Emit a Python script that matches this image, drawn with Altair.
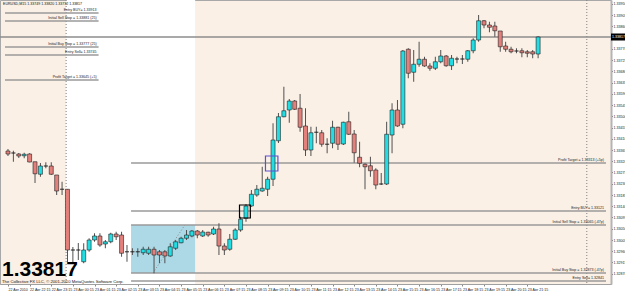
import altair as alt
import pandas as pd

# ---------------- data ----------------
BAR = list(range(99))  # M15 bars, 22 Apr 21:15 .. 23 Apr 21:45
OPEN = [1.33361, 1.33353, 1.33349, 1.33342, 1.33349, 1.33318, 1.33268, 1.33301, 1.33301, 1.33265,
        1.33208, 1.33208, 1.32965, 1.32965, 1.32918, 1.32965, 1.33005, 1.33021, 1.32989, 1.32998,
        1.33029, 1.33025, 1.32958, 1.32958, 1.32958, 1.32954, 1.32952, 1.32968, 1.32958, 1.32958,
        1.32941, 1.32972, 1.32994, 1.33012, 1.33021, 1.33041, 1.33021, 1.33036, 1.33029, 1.33049,
        1.32981, 1.32968, 1.33008, 1.33045, 1.33092, 1.33141, 1.33185, 1.33201, 1.33208, 1.33248,
        1.33402, 1.33498, 1.33525, 1.33561, 1.33532, 1.33461, 1.33365, 1.33436, 1.33434, 1.33388,
        1.33392, 1.33456, 1.33389, 1.33478, 1.33429, 1.33336, 1.33308, 1.33302, 1.33285, 1.33229,
        1.33229, 1.33425, 1.33525, 1.33468, 1.33768, 1.33676, 1.33708, 1.33728, 1.33701, 1.33692,
        1.33718, 1.33741, 1.33702, 1.33729, 1.33729, 1.33728, 1.33762, 1.33805, 1.33882, 1.33865,
        1.33861, 1.33841, 1.33781, 1.33768, 1.33761, 1.33762, 1.33758, 1.33758, 1.33749]
HIGH = [1.33369, 1.33362, 1.33353, 1.33354, 1.33352, 1.33318, 1.33313, 1.33316, 1.33316, 1.33265,
        1.33238, 1.33209, 1.32977, 1.32993, 1.32992, 1.33012, 1.33032, 1.33032, 1.33005, 1.33034,
        1.33038, 1.33038, 1.32985, 1.32972, 1.32972, 1.32978, 1.32978, 1.32978, 1.32965, 1.32965,
        1.32992, 1.33005, 1.33018, 1.33045, 1.33045, 1.33045, 1.33045, 1.33038, 1.33058, 1.33072,
        1.32992, 1.33029, 1.33052, 1.33098, 1.33149, 1.33205, 1.33225, 1.33298, 1.33258, 1.33472,
        1.33513, 1.33618, 1.33569, 1.33565, 1.33589, 1.33532, 1.33458, 1.33458, 1.33445, 1.33412,
        1.33482, 1.33458, 1.33478, 1.33518, 1.33445, 1.33398, 1.33312, 1.33338, 1.33292, 1.33273,
        1.33478, 1.33552, 1.33565, 1.33765, 1.33772, 1.33765, 1.33798, 1.33738, 1.33712, 1.33738,
        1.33765, 1.33745, 1.33745, 1.33738, 1.33745, 1.33765, 1.33812, 1.33905, 1.33885, 1.33878,
        1.33878, 1.33841, 1.33798, 1.33778, 1.33772, 1.33772, 1.33765, 1.33765, 1.33820]
LOW = [1.33341, 1.33318, 1.33333, 1.33332, 1.33316, 1.33233, 1.33258, 1.33292, 1.33265, 1.33185,
       1.33185, 1.32917, 1.32913, 1.32925, 1.32912, 1.32958, 1.32998, 1.32978, 1.32972, 1.32992,
       1.33005, 1.32938, 1.32918, 1.32945, 1.32938, 1.32945, 1.32945, 1.32872, 1.32912, 1.32912,
       1.32938, 1.32965, 1.32992, 1.33005, 1.33016, 1.33012, 1.33017, 1.33018, 1.33025, 1.32945,
       1.32945, 1.32962, 1.33005, 1.33038, 1.33078, 1.33138, 1.33178, 1.33198, 1.33181, 1.33221,
       1.33393, 1.33496, 1.33474, 1.33525, 1.33438, 1.33341, 1.33341, 1.33392, 1.33378, 1.33352,
       1.33372, 1.33365, 1.33385, 1.33425, 1.33314, 1.33296, 1.33208, 1.33258, 1.33208, 1.33225,
       1.33225, 1.33352, 1.33458, 1.33452, 1.33652, 1.33638, 1.33698, 1.33698, 1.33682, 1.33685,
       1.33712, 1.33698, 1.33685, 1.33712, 1.33709, 1.33718, 1.33752, 1.33798, 1.33852, 1.33836,
       1.33818, 1.33758, 1.33758, 1.33752, 1.33752, 1.33736, 1.33736, 1.33732, 1.33732]
CLOSE = [1.33349, 1.33353, 1.33341, 1.33348, 1.33317, 1.33270, 1.33301, 1.33301, 1.33268, 1.33201,
         1.33208, 1.32965, 1.32965, 1.32965, 1.32965, 1.33005, 1.33021, 1.32985, 1.32998, 1.33029,
         1.33018, 1.32952, 1.32958, 1.32958, 1.32958, 1.32968, 1.32968, 1.32945, 1.32945, 1.32941,
         1.32978, 1.32998, 1.33012, 1.33025, 1.33041, 1.33025, 1.33037, 1.33025, 1.33049, 1.32981,
         1.32965, 1.33008, 1.33045, 1.33088, 1.33141, 1.33188, 1.33208, 1.33212, 1.33248, 1.33405,
         1.33498, 1.33522, 1.33561, 1.33528, 1.33456, 1.33365, 1.33434, 1.33436, 1.33388, 1.33388,
         1.33456, 1.33388, 1.33476, 1.33428, 1.33354, 1.33312, 1.33298, 1.33282, 1.33225, 1.33229,
         1.33428, 1.33525, 1.33461, 1.33761, 1.33672, 1.33708, 1.33728, 1.33701, 1.33692, 1.33718,
         1.33741, 1.33702, 1.33732, 1.33729, 1.33729, 1.33762, 1.33805, 1.33882, 1.33865, 1.33856,
         1.33842, 1.33778, 1.33768, 1.33758, 1.33761, 1.33754, 1.33752, 1.33749, 1.33817]

TIME_TICKS = [0, 4, 8, 12, 16, 20, 24, 28, 32, 36, 40, 44, 48, 52, 56, 60, 64, 68, 72, 76, 80, 84, 88, 92, 96]
TIME_LABELS = ["22 Apr 2010", "22 Apr 22:15", "22 Apr 23:15", "23 Apr 00:15", "23 Apr 01:15",
               "23 Apr 02:15", "23 Apr 03:15", "23 Apr 04:15", "23 Apr 05:15", "23 Apr 06:15",
               "23 Apr 07:15", "23 Apr 08:15", "23 Apr 09:15", "23 Apr 10:15", "23 Apr 11:15",
               "23 Apr 12:15", "23 Apr 13:15", "23 Apr 14:15", "23 Apr 15:15", "23 Apr 16:15",
               "23 Apr 17:15", "23 Apr 18:15", "23 Apr 19:15", "23 Apr 20:15", "23 Apr 21:15"]
# price grid labels (the one under the current-price box is hidden in the reference)
PRICE_TICKS = [1.33950, 1.33905, 1.33860, 1.33770, 1.33725, 1.33680, 1.33635, 1.33590,
               1.33545, 1.33500, 1.33455, 1.33410, 1.33365, 1.33320, 1.33275, 1.33230, 1.33185,
               1.33140, 1.33095, 1.33050, 1.33005, 1.32960, 1.32915, 1.32870]

LEVEL_TEXT = ["Entry BUY= 1.33913", "Initial Sell Stop = 1.33881 (25)", "Initial Buy Stop = 1.33777 (25)",
              "Entry Sell= 1.33745", "Profit Target = 1.33645 (+5)",
              "Profit Target = 1.33313 (+5p)", "Entry BUY= 1.33121", "Initial Sell Stop = 1.33065 (-47p)",
              "Initial Buy Stop = 1.32873 (-47p)", "Entry Sell= 1.32841"]
LEVEL_PRICE = [1.33913, 1.33881, 1.33777, 1.33745, 1.33645,
               1.33313, 1.33121, 1.33065, 1.32873, 1.32841]
LEVEL_FROM = [-0.55] * 5 + [22.75] * 5
LEVEL_TO = [16.75] * 5 + [110.55] * 5

LAST_PRICE = 1.33817
SYMBOL_TEXT = "EURUSD,M15  1.33749 1.33820 1.33732 1.33817"
COPYRIGHT = "The Collective FX LLC, \u00a9 2001-2010 MetaQuotes Software Corp."

ZONE_FROM = [10.75, 22.75]
ZONE_TO = [34.6, 34.6]
ZONE_LOW = [1.32829, 1.32873]
ZONE_HIGH = [1.33965, 1.33065]
ZONE_COLOR = ["#ffffff", "#add8e6"]

MARK_FROM = [42.8, 47.6]
MARK_TO = [44.8, 49.9]
MARK_LOW = [1.33093, 1.33281]
MARK_HIGH = [1.33145, 1.33341]
MARK_COLOR = ["#000000", "#5a50d0"]

SEPARATORS = [10.75, 107]
DIAG_X = [26.8, 32.7]
DIAG_Y = [1.32873, 1.33065]

# ---------------- tables ----------------
df = pd.DataFrame({"i": BAR, "open": OPEN, "high": HIGH, "low": LOW, "close": CLOSE})
df["dir"] = ["up" if c > o else ("down" if c < o else "flat") for o, c in zip(OPEN, CLOSE)]
levels = pd.DataFrame({"text": LEVEL_TEXT, "p": LEVEL_PRICE, "x1": LEVEL_FROM, "x2": LEVEL_TO})
zones = pd.DataFrame({"x1": ZONE_FROM, "x2": ZONE_TO, "y1": ZONE_LOW, "y2": ZONE_HIGH, "c": ZONE_COLOR})
marks = pd.DataFrame({"x1": MARK_FROM, "x2": MARK_TO, "y1": MARK_LOW, "y2": MARK_HIGH, "c": MARK_COLOR})
seps = pd.DataFrame({"x": SEPARATORS})
diag = pd.DataFrame({"x": DIAG_X, "y": DIAG_Y})
last = pd.DataFrame({"p": [LAST_PRICE], "t": [f"{LAST_PRICE:.5f}"]})

XS = alt.Scale(domain=[-0.55, 110.55], nice=False, zero=False)
YS = alt.Scale(domain=[1.32829, 1.33965], nice=False, zero=False)
FONT = "Liberation Sans, Arial, sans-serif"
SMALL = 3.6

label_expr = "[" + ",".join("'" + s + "'" for s in TIME_LABELS) + "][round(datum.value / 4)]"

X_AXIS = alt.Axis(values=TIME_TICKS, labelExpr=label_expr, labelAlign="left", labelBaseline="top",
                  labelFontSize=SMALL, labelFont=FONT, labelColor="#222", labelPadding=1.5, tickSize=2,
                  tickColor="#888", domainColor="#a0a0a0", grid=False, title=None,
                  labelOverlap=False, labelFlush=False)
Y_AXIS = alt.Axis(orient="right", values=PRICE_TICKS, format=".5f", labelFontSize=SMALL, labelFont=FONT,
                  labelColor="#222", labelPadding=0.5, tickSize=1.5, tickColor="#666",
                  domainColor="#b4b4b4", domainWidth=2, grid=False, title=None, labelFlush=False,
                  labelOverlap=False)


def X(field):
    return alt.X(field, scale=XS, axis=X_AXIS, title=None)


def Y(field):
    return alt.Y(field, scale=YS, axis=Y_AXIS, title=None)


zone_layer = alt.Chart(zones).mark_rect().encode(
    x=X("x1:Q"), x2="x2", y=Y("y1:Q"), y2="y2", color=alt.Color("c:N", scale=None))

sep_layer = alt.Chart(seps).mark_rule(color="#808080", strokeDash=[1, 2], strokeWidth=1).encode(
    x=X("x:Q"))

diag_layer = alt.Chart(diag).mark_line(color="#8a8a8a", strokeDash=[1, 2], strokeWidth=1).encode(
    x=X("x:Q"), y=Y("y:Q"))

level_layer = alt.Chart(levels).mark_rule(color="#9a9a9a", strokeWidth=1.3).encode(
    x=X("x1:Q"), x2="x2", y=Y("p:Q"))

level_text = alt.Chart(levels).mark_text(align="right", baseline="bottom", dx=-2, dy=-0.8,
                                         fontSize=SMALL, font=FONT, color="#222").encode(
    x=X("x2:Q"), y=Y("p:Q"), text="text:N")

last_line = alt.Chart(last).mark_rule(color="#8c8c8c", strokeWidth=1.6).encode(
    x=alt.value(0), x2=alt.value(611), y=Y("p:Q"))

wicks = alt.Chart(df).mark_rule(color="#505050", strokeWidth=1).encode(
    x=X("i:Q"), y=Y("low:Q"), y2="high")

bodies = alt.Chart(df).mark_bar(size=4, stroke="#202020", strokeWidth=0.6).encode(
    x=X("i:Q"), y=Y("open:Q"), y2="close",
    color=alt.Color("dir:N", scale=alt.Scale(domain=["up", "down", "flat"],
                                             range=["#22dde3", "#e4807c", "#000000"]), legend=None))

mark_boxes = alt.Chart(marks).mark_rect(fillOpacity=0, strokeWidth=1.2).encode(
    x=X("x1:Q"), x2="x2", y=Y("y1:Q"), y2="y2", stroke=alt.Stroke("c:N", scale=None))

price_box = alt.Chart(last).mark_tick(color="black", size=14, thickness=7, orient="horizontal",
                                      opacity=1).encode(
    x=alt.value(618), y=Y("p:Q"))
price_txt = alt.Chart(last).mark_text(align="left", baseline="middle", fontSize=SMALL, font=FONT,
                                      color="white").encode(
    x=alt.value(612), y=Y("p:Q"), text="t:N")

sym_txt = alt.Chart(last).mark_text(align="left", baseline="middle", fontSize=SMALL, font=FONT,
                                    color="#111", text=SYMBOL_TEXT).encode(
    x=alt.value(3), y=alt.value(4))
big_txt = alt.Chart(last).mark_text(align="left", baseline="alphabetic", fontSize=21, fontWeight="bold",
                                    font="Liberation Sans Narrow, Liberation Sans, Arial",
                                    color="black").encode(
    x=alt.value(2), y=alt.value(276), text="t:N")
copy_txt = alt.Chart(last).mark_text(align="left", baseline="bottom", fontSize=4.2, font=FONT,
                                     color="#111", text=COPYRIGHT).encode(
    x=alt.value(2), y=alt.value(284))

chart = alt.layer(
    zone_layer, sep_layer, diag_layer, level_layer, last_line, level_text,
    wicks, bodies, mark_boxes, price_box, price_txt, sym_txt, big_txt, copy_txt
).properties(
    width=611, height=284,
    autosize=alt.AutoSizeParams(type="none"),
    padding={"left": 0, "top": 0, "right": 14, "bottom": 7},
    background="white",
).configure_view(fill="#faf0e6", stroke="#a8a8a8", strokeWidth=1)

chart.save("out.html", embed_options={"renderer": "svg", "actions": False})
